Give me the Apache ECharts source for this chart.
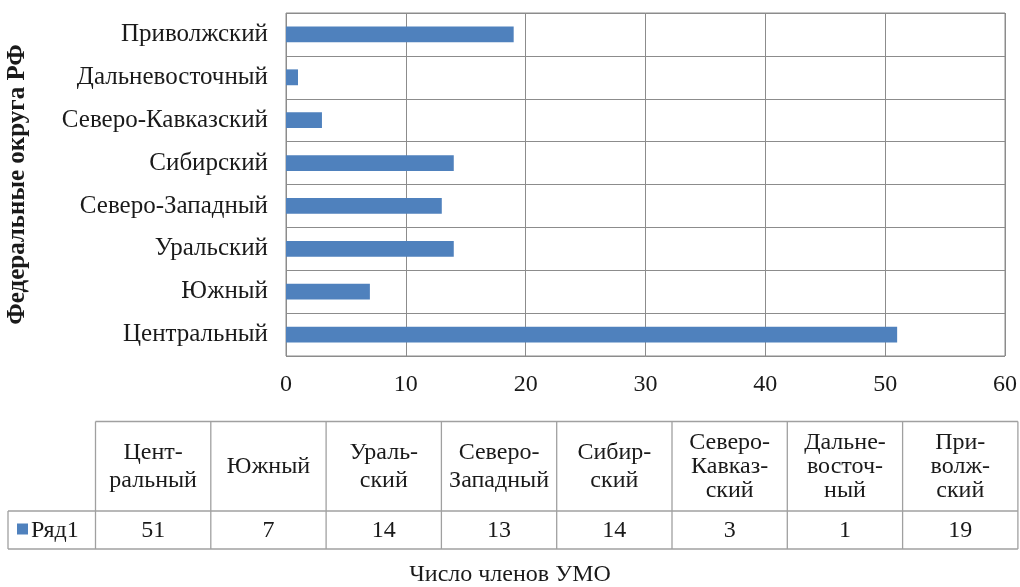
<!DOCTYPE html>
<html>
<head>
<meta charset="utf-8">
<script src="https://cdn.jsdelivr.net/npm/echarts@6/dist/echarts.min.js"></script>
<style>html,body{margin:0;padding:0;background:#fff}#c{width:1020px;height:587px}</style>
</head>
<body>
<div id="c"></div>
<script>
const categories = ['Центральный','Южный','Уральский','Северо-Западный','Сибирский','Северо-Кавказский','Дальневосточный','Приволжский'];
const tableHeaders = ['Цент-\nральный','Южный','Ураль-\nский','Северо-\nЗападный','Сибир-\nский','Северо-\nКавказ-\nский','Дальне-\nвосточ-\nный','При-\nволж-\nский'];
const seriesName = 'Ряд1';
const values = [51, 7, 14, 13, 14, 3, 1, 19];
const axisTitle = 'Федеральные округа РФ';
const bottomTitle = 'Число членов УМО';

const FONT = 'Liberation Serif, Times New Roman, serif';
const BLUE = '#4f81bd';
const GRID = '#8c8c8c';
const TB = '#a0a0a0';
const TXT = '#1a1a1a';

// table layout
const tLeft = 95.5, colW = 115.3, tTop = 421.5, tMid = 511, tBot = 549, legLeft = 8;
const tRight = tLeft + colW * categories.length;
const g = [];
const line = (x1,y1,x2,y2) => g.push({type:'line', shape:{x1,y1,x2,y2}, style:{stroke:TB, lineWidth:1.3}, silent:true});
line(tLeft, tTop, tRight, tTop);
line(legLeft, tMid, tRight, tMid);
line(legLeft, tBot, tRight, tBot);
line(legLeft, tMid, legLeft, tBot);
for (let i = 0; i <= categories.length; i++) line(tLeft + i*colW, tTop, tLeft + i*colW, tBot);
tableHeaders.forEach((h, i) => {
  const n = h.split('\n').length;
  g.push({type:'text', x: tLeft + (i+0.5)*colW, y: (tTop+tMid)/2, style:{text:h, font:'24px ' + FONT, fill:TXT, align:'center', verticalAlign:'middle', lineHeight: n === 2 ? 28 : 24}});
});
values.forEach((v, i) => {
  g.push({type:'text', x: tLeft + (i+0.5)*colW, y: (tMid+tBot)/2 + 1, style:{text:String(v), font:'24px ' + FONT, fill:TXT, align:'center', verticalAlign:'middle'}});
});
g.push({type:'rect', shape:{x:17, y:523.5, width:11, height:11}, style:{fill:BLUE}});
g.push({type:'text', x:31, y:(tMid+tBot)/2 + 1, style:{text:seriesName, font:'24px ' + FONT, fill:TXT, align:'left', verticalAlign:'middle'}});

const chart = echarts.init(document.getElementById('c'), null, {renderer:'canvas'});
chart.setOption({
  animation: false,
  backgroundColor: '#fff',
  title: {text: bottomTitle, left: 'center', top: 563, padding: 0, textStyle:{fontFamily:FONT, fontSize:24, fontWeight:'normal', color:TXT}},
  grid: {left: 286, right: 15, top: 13, bottom: 231, show: true, borderColor: GRID, borderWidth: 1, outerBoundsMode: 'none', containLabel: false},
  xAxis: {
    type: 'value', min: 0, max: 60, interval: 10,
    axisLine: {show: false}, axisTick: {show: false},
    splitLine: {show: true, lineStyle: {color: GRID, width: 1}},
    axisLabel: {fontFamily: FONT, fontSize: 24, color: TXT, margin: 17}
  },
  yAxis: {
    type: 'category', data: categories,
    axisLine: {show: false}, axisTick: {show: false},
    splitLine: {show: true, lineStyle: {color: GRID, width: 1}},
    axisLabel: {fontFamily: FONT, fontSize: 25, color: TXT, margin: 18},
    name: axisTitle, nameLocation: 'middle', nameRotate: 90, nameGap: 256,
    nameTextStyle: {fontFamily: FONT, fontSize: 25, fontWeight: 'bold', color: TXT}
  },
  series: [{type: 'bar', name: seriesName, data: values, barWidth: '37%', itemStyle: {color: BLUE}}],
  graphic: g
});
</script>
</body>
</html>
